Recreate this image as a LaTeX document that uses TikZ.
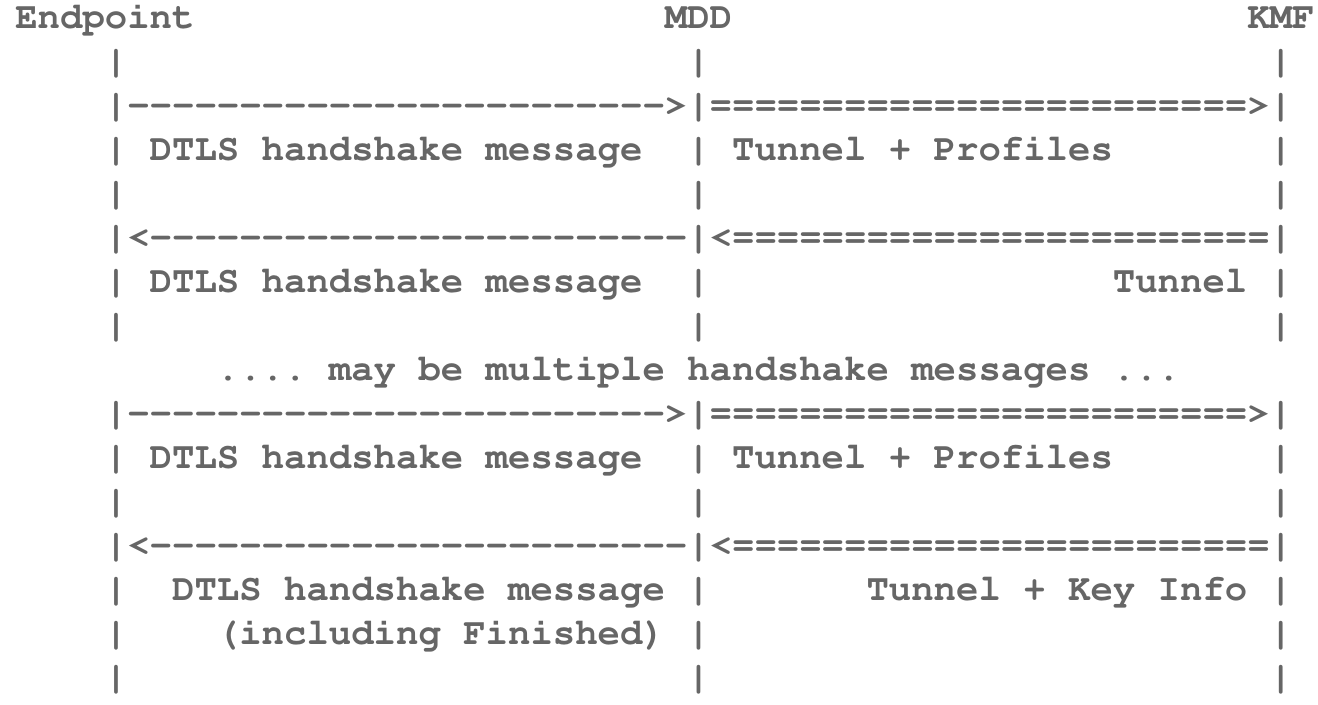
\documentclass[tikz,border=0pt]{standalone}
\usepackage[T1,TU]{fontenc}
\usepackage{xcolor}
\usepackage{tikz}
\usetikzlibrary{positioning}
\definecolor{ink}{HTML}{666666}
\ExplSyntaxOn
\cs_new:Npn \rep #1#2 { \prg_replicate:nn {#1} {#2} }
\ExplSyntaxOff
\newcommand\courb{\fontencoding{T1}\fontfamily{pcr}\fontseries{b}\fontshape{n}\fontsize{28}{33}\selectfont\frenchspacing}

\begin{document}
\begin{tikzpicture}[x=16.8pt,y=-33pt,
  txt/.style={anchor=base west,inner sep=0pt,outer sep=0pt,text=ink,font=\courb}]
\useasboundingbox (-11.5pt,21.375pt) rectangle (977pt,-506.625pt);
% parties
\node[txt] (endpoint) at (0,0) {Endpoint};
\node[txt] (mdd) at (29,0) {MDD};
\node[txt] (kmf) at (55,0) {KMF};
% lifelines
\foreach \r in {1,2,3,4,5,6,7,9,10,11,12,13,14,15}
  \foreach \c/\n in {4/ep,30/md,56/km}
    \node[txt] (\n\r) at (\c,\r) {|};
% messages
\foreach \r in {2,9} {
  \node[txt] (dtls\r) at (5,\r) {\rep{24}{-{}}>};
  \node[txt] (tunnel\r) at (31,\r) {\rep{24}{={}}>};
}
\foreach \r in {5,12} {
  \node[txt] (dtls\r) at (5,\r) {<\rep{24}{-{}}};
  \node[txt] (tunnel\r) at (31,\r) {<\rep{24}{={}}};
}
% labels
\foreach \r/\c/\t in {3/6/{DTLS handshake message}, 3/32/{Tunnel + Profiles},
  6/6/{DTLS handshake message}, 6/49/{Tunnel},
  10/6/{DTLS handshake message}, 10/32/{Tunnel + Profiles},
  13/7/{DTLS handshake message}, 13/38/{Tunnel + Key Info},
  14/9/{(including Finished)}}
  \node[txt] at (\c,\r) {\t};
\node[txt] (more) at (9,8) {.... may be multiple handshake messages ...};
\end{tikzpicture}
\end{document}
